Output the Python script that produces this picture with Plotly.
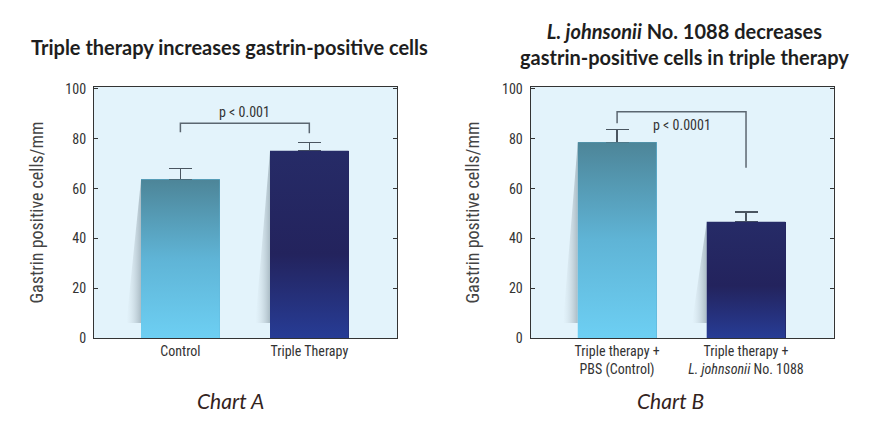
import plotly.graph_objects as go

# ---- data ----
cats_a = ["Control", "Triple Therapy"]
vals_a = [63.7, 75.2]
err_a = [4.3, 3.4]

cats_b = ["Triple therapy +<br>PBS (Control)", "Triple therapy +<br><i>L. johnsonii</i> No. 1088"]
vals_b = [78.6, 46.7]
err_b = [5.2, 3.9]

y_ticks = [0, 20, 40, 60, 80, 100]

# bracket (significance) data: y of horizontal line, y of left leg end, y of right leg end, label
bracket_a = dict(top=86.2, left_end=82.6, right_end=82.2, label="p < 0.001", label_y=90.8)
bracket_b = dict(top=90.9, left_end=86.2, right_end=68.4, label="p < 0.0001", label_y=85.6)

# ---- style ----
BAR_W = 0.61
SHADOW_DX = 0.114
NARROW = "Liberation Sans Narrow, Arial Narrow, Roboto Condensed, Roboto, sans-serif"
LATO = "Lato, sans-serif"
grad_light = [[0, "#6dcff3"], [0.5, "#5fb4d6"], [1, "#4d8598"]]
grad_dark = [[0, "#273c95"], [0.45, "#23235d"], [1, "#262b67"]]
bar_mid = ["#5fb4d6", "#23235d"]

fig = go.Figure()


def add_panel(cats, vals, errs, br, xa, ya):
    xs = list(range(len(cats)))
    # library bars with error bars (one-sided, up)
    fig.add_trace(go.Bar(
        x=xs, y=vals, width=BAR_W, marker=dict(color=bar_mid, line=dict(width=0)),
        error_y=dict(type="data", array=errs, arrayminus=[0] * len(errs), symmetric=False,
                     color="#4a5560", thickness=1.5, width=11.5),
        xaxis=xa, yaxis=ya, showlegend=False, hoverinfo="skip"))
    for i, v in enumerate(vals):
        xl = xs[i] - BAR_W / 2
        xr = xs[i] + BAR_W / 2
        # shadow to the left of the bar
        fig.add_trace(go.Scatter(
            x=[xl, xl - SHADOW_DX, xl, xl], y=[v, 6, 6, v], mode="lines", line=dict(width=0),
            fill="toself",
            fillgradient=dict(type="horizontal", colorscale=[[0, "rgba(200,212,220,0)"], [1, "rgba(140,158,168,0.65)"]]),
            xaxis=xa, yaxis=ya, showlegend=False, hoverinfo="skip"))
        # gradient face of the bar
        fig.add_trace(go.Scatter(
            x=[xl, xr, xr, xl, xl], y=[0, 0, v, v, 0], mode="lines", line=dict(width=0),
            fill="toself",
            fillgradient=dict(type="vertical", colorscale=grad_light if i == 0 else grad_dark, start=0, stop=v),
            xaxis=xa, yaxis=ya, showlegend=False, hoverinfo="skip"))
    # significance bracket
    fig.add_trace(go.Scatter(
        x=[0, 0, 1, 1], y=[br["left_end"], br["top"], br["top"], br["right_end"]],
        mode="lines", line=dict(color="#5b6670", width=1.5),
        xaxis=xa, yaxis=ya, showlegend=False, hoverinfo="skip"))
    fig.add_annotation(x=0.5, y=br["label_y"], xref=xa, yref=ya, text=br["label"], showarrow=False,
                       xanchor="center", yanchor="middle",
                       font=dict(family=NARROW, size=14, color="#333333"))


add_panel(cats_a, vals_a, err_a, bracket_a, "x", "y")
add_panel(cats_b, vals_b, err_b, bracket_b, "x2", "y2")

xcommon = dict(range=[-0.67, 1.68], showline=True, linecolor="#333333", linewidth=1.3, mirror=True,
               ticks="", showgrid=False, zeroline=False, automargin=False,
               tickfont=dict(family=NARROW, size=14, color="#333333"))
ycommon = dict(range=[0, 100.8], tickvals=y_ticks, showline=True, linecolor="#333333", linewidth=1.3,
               mirror="ticks", ticks="inside", ticklen=4, tickcolor="#333333", showgrid=False, zeroline=False,
               ticklabelstandoff=4, automargin=False,
               tickfont=dict(family=NARROW, size=14, color="#333333"),
               title=dict(text="Gastrin positive cells/mm", standoff=17,
                          font=dict(family=NARROW, size=18, color="#444444")))

fig.update_layout(
    width=876, height=424, margin=dict(l=0, r=0, t=0, b=0, autoexpand=False),
    paper_bgcolor="white", plot_bgcolor="#e3f3fb", bargap=0,
    xaxis=dict(domain=[94 / 876, 397 / 876], tickvals=[0, 1], ticktext=cats_a, **xcommon),
    xaxis2=dict(domain=[530.7 / 876, 833.7 / 876], tickvals=[0, 1], ticktext=cats_b, anchor="y2", **xcommon),
    yaxis=dict(domain=[1 - 338 / 424, 1 - 87 / 424], anchor="x", **ycommon),
    yaxis2=dict(domain=[1 - 338 / 424, 1 - 87 / 424], anchor="x2", **ycommon),
)

# titles
ann = dict(xref="paper", yref="paper", showarrow=False, xanchor="center", yanchor="middle")
fig.add_annotation(x=229 / 876, y=1 - 47 / 424, **ann,
                   text="<b>Triple therapy increases gastrin-positive cells</b>",
                   font=dict(family=LATO, size=20, color="#1e1e1e"))
fig.add_annotation(x=684 / 876, y=1 - 44 / 424, **ann,
                   text="<b><i>L. johnsonii</i> No. 1088 decreases<br>gastrin-positive cells in triple therapy</b>",
                   font=dict(family=LATO, size=20, color="#1e1e1e"))
fig.add_annotation(x=230 / 876, y=1 - 400 / 424, **ann,
                   text="<i>Chart A</i>", font=dict(family=LATO, size=21, color="#33231c"))
fig.add_annotation(x=670 / 876, y=1 - 400 / 424, **ann,
                   text="<i>Chart B</i>", font=dict(family=LATO, size=21, color="#33231c"))

fig.write_html("out.html", config={"displayModeBar": False},
               post_script="document.body.style.margin='0';")
